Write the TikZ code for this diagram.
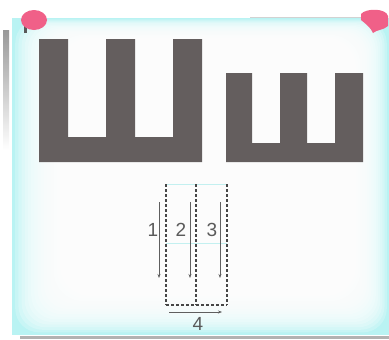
\documentclass[tikz,border=0pt]{standalone}
\usepackage{fontspec}
\setmainfont{Liberation Sans}
\usetikzlibrary{arrows.meta}
\definecolor{cardcyan}{RGB}{185,243,243}
\definecolor{lettergray}{RGB}{100,94,94}
\definecolor{pinkc}{RGB}{240,96,136}
\definecolor{dashc}{RGB}{70,70,70}
\definecolor{arrc}{RGB}{95,95,95}
\definecolor{lblc}{RGB}{90,90,90}
\definecolor{faintc}{RGB}{195,240,240}
\tikzset{
  dashline/.style={draw=dashc, line width=1.3pt, dash pattern=on 3pt off 2pt},
  flowarrow/.style={draw=arrc, line width=1pt, -{Stealth[length=4pt,width=3pt]}},
  lbl/.style={text=lblc, font=\fontsize{19}{19}\selectfont, inner sep=0pt},
  letterfill/.style={fill=lettergray, draw=none},
}
\begin{document}
\begin{tikzpicture}[x=1pt,y=-1pt]
\useasboundingbox (0,0) rectangle (389,340);
\fill[white] (0,0) rectangle (389,340);
% shadows
\shade[top color=gray!80, bottom color=white] (3,30) rectangle (9,150);
\fill[gray!60] (20,335.5) rectangle (389,339);
\draw[gray!35, line width=1pt] (250,17) -- (362,17);
% card
\fill[cardcyan] (12,18) rectangle (389,335);
\foreach \i in {1,...,12}{
  \fill[white, opacity=0.22, rounded corners=24pt] ({12+\i*3.2},{18+\i*1.3}) rectangle ({389-\i*2.2},{335-\i*2.6});
}
\foreach \i in {13,...,18}{
  \fill[white, opacity=0.3, rounded corners=30pt] ({12+\i*3.2},{18+\i*1.3}) rectangle ({389-\i*2.2},{335-\i*2.6});
}
% pins
\fill[gray!70!black] (24,17) rectangle (27,33);
\fill[pinkc] (34,20) ellipse (13pt and 10pt);
\fill[pinkc] (361,14) .. controls (366,8) and (386,8) .. (388,16) -- (388,26) .. controls (384,30) and (376,30) .. (373,33) .. controls (371,28) and (366,24) .. (361,20) -- cycle;
% big Sha
\fill[letterfill] (39,39) -- (68,39) -- (68,137) -- (106,137) -- (106,39) -- (135,39) -- (135,137) -- (173,137) -- (173,39) -- (202,39) -- (202,162) -- (39,162) -- cycle;
% small sha
\fill[letterfill] (226,73) -- (252,73) -- (252,143) -- (280,143) -- (280,73) -- (307,73) -- (307,143) -- (335,143) -- (335,73) -- (363,73) -- (363,162) -- (226,162) -- cycle;
% scheme
\coordinate (tl) at (166,184);
\coordinate (tm) at (196,184);
\coordinate (tr) at (227,184);
\coordinate (bl) at (166,305);
\coordinate (bm) at (196,305);
\coordinate (br) at (227,305);
\coordinate (ml) at (166,243);
\coordinate (mr) at (227,243);
\draw[faintc, line width=1pt] (tl) -- (tr);
\draw[faintc, line width=1pt] (ml) -- (mr);
\draw[dashline] (tl) -- (bl);
\draw[dashline] (tm) -- (bm);
\draw[dashline] (tr) -- (br);
\draw[dashline] (bl) -- (br);
\coordinate (a1s) at (159,202); \coordinate (a1e) at (159,278);
\coordinate (a2s) at (190,202); \coordinate (a2e) at (190,278);
\coordinate (a3s) at (220,202); \coordinate (a3e) at (220,278);
\coordinate (a4s) at (169,312); \coordinate (a4e) at (222,312);
\draw[flowarrow] (a1s) -- (a1e);
\draw[flowarrow] (a2s) -- (a2e);
\draw[flowarrow] (a3s) -- (a3e);
\draw[flowarrow] (a4s) -- (a4e);
\node[lbl] (n1) at (153,230) {1};
\node[lbl] (n2) at (181,230) {2};
\node[lbl] (n3) at (212,230) {3};
\node[lbl] (n4) at (198,324) {4};
\end{tikzpicture}
\end{document}
